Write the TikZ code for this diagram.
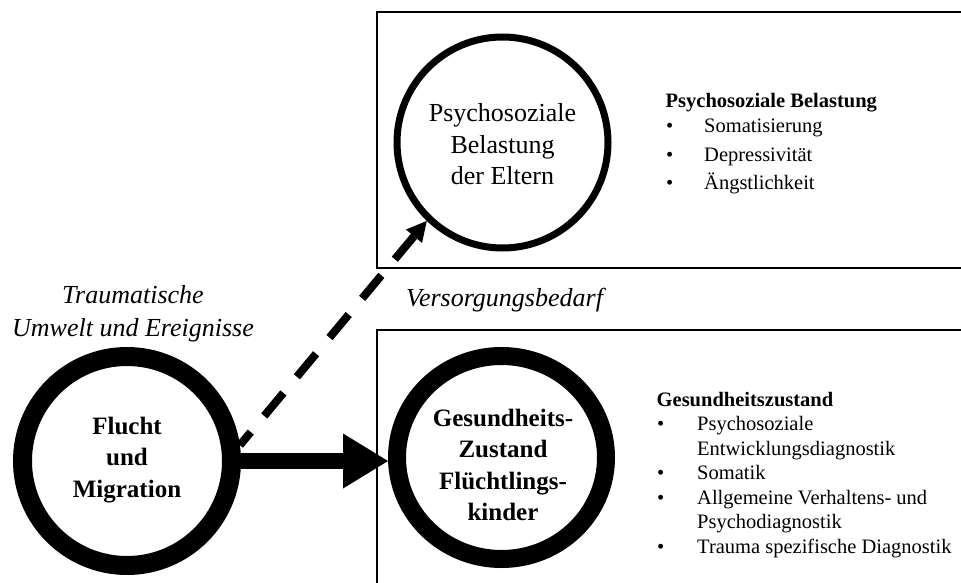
\documentclass[tikz,border=0pt]{standalone}
\usepackage{fontspec}
\setmainfont{Liberation Serif}
\usetikzlibrary{arrows.meta,shapes.geometric}
\begin{document}
\begin{tikzpicture}[x=1pt,y=-1pt,
  panel/.style={draw=black, line width=1.5pt},
  ring/.style={draw=black, fill=white, circle, inner sep=0pt},
  circtext/.style={align=center, inner sep=0pt, font=\fontsize{26}{31.5}\selectfont},
  boldtext/.style={align=center, inner sep=0pt, font=\fontsize{25}{31.5}\selectfont\bfseries},
  note/.style={align=center, inner sep=0pt, font=\fontsize{26}{33}\selectfont\itshape},
  listhead/.style={anchor=base west, inner sep=0pt, font=\fontsize{20.5}{24.6}\selectfont\bfseries},
  listline/.style={anchor=base west, inner sep=0pt, font=\fontsize{20.5}{24.6}\selectfont},
]
\useasboundingbox (0,0) rectangle (961,583);
\clip (0,0) rectangle (961,583);
\fill[white] (0,0) rectangle (961,583);

% the two panels run off the right (and lower) edge
\draw[panel] (377,12) rectangle (1000,268);
\draw[panel] (377,330) rectangle (1000,640);

% circles
\node[ring, line width=7pt, minimum size=211pt] (parents) at (502.5,142.5) {};
\node[circtext] (parentstext) at (502.5,144.5) {Psychosoziale\\Belastung\\der Eltern};

\node[ring, line width=19pt, minimum size=209pt] (flight) at (127,461) {};
\node[boldtext] (flighttext) at (127,460) {Flucht\\und\\Migration};

\node[ring, ellipse, line width=18pt, minimum width=209pt, minimum height=203pt] (kids) at (501.5,457.5) {};
\node[boldtext] (kidstext) at (503,465) {Gesundheits-\\Zustand\\Flüchtlings-\\kinder};

% free-standing italic labels
\node[note] (trauma) at (133,313.5) {Traumatische\\Umwelt und Ereignisse};
\node[note] (need) at (504.5,300) {Versorgungsbedarf};

% connectors
\draw[line width=16pt, -{Triangle[length=45pt,width=55pt,line width=0pt]}]
  (flight.east) -- (flight.east -| kids.west);
\draw[line width=8pt, dash pattern=on 30pt off 21pt, dash phase=13pt,
      -{Triangle[length=20pt,width=21pt,line width=0pt]}]
  (flight.8) -- (parents.226);

% list in the upper panel
\node[listhead] (ph) at (665.5,108) {Psychosoziale Belastung};
\node[listline] (pb1) at (666,133) {\textbullet};
\node[listline] (pi1) at (704,133) {Somatisierung};
\node[listline] (pb2) at (666,161) {\textbullet};
\node[listline] (pi2) at (704,161) {Depressivität};
\node[listline] (pb3) at (666,189) {\textbullet};
\node[listline] (pi3) at (704,189) {Ängstlichkeit};

% list in the lower panel
\node[listhead] (gh) at (656.5,406) {Gesundheitszustand};
\node[listline] (gb1) at (657,430.5) {\textbullet};
\node[listline] (gi1) at (697,430.5) {Psychosoziale};
\node[listline] (gi1b) at (697,455) {Entwicklungsdiagnostik};
\node[listline] (gb2) at (657,479.5) {\textbullet};
\node[listline] (gi2) at (697,479.5) {Somatik};
\node[listline] (gb3) at (657,504) {\textbullet};
\node[listline] (gi3) at (697,504) {Allgemeine Verhaltens- und};
\node[listline] (gi3b) at (697,528.5) {Psychodiagnostik};
\node[listline] (gb4) at (657,553) {\textbullet};
\node[listline] (gi4) at (697,553) {Trauma spezifische Diagnostik};
\end{tikzpicture}
\end{document}
